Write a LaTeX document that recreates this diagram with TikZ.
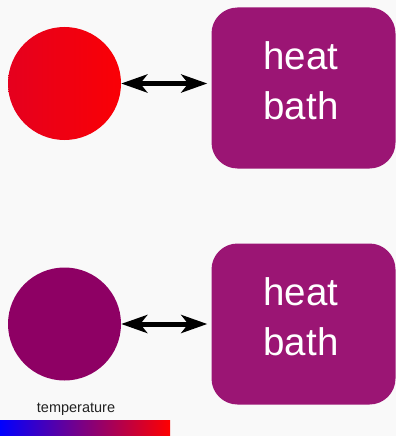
\documentclass[tikz,border=0pt]{standalone}
\usepackage{fontspec}
\setmainfont{Liberation Sans}
\usetikzlibrary{arrows.meta}
\definecolor{bg}{HTML}{F9F9F9}
\definecolor{bathc}{HTML}{9B1574}
\definecolor{hotl}{HTML}{E5001E}
\definecolor{hotr}{HTML}{FA0005}
\definecolor{warm}{HTML}{8E0064}
\definecolor{txt}{HTML}{222222}
\tikzset{
  bath/.style={fill=bathc, rounded corners=26pt, minimum width=184pt, minimum height=161pt, inner sep=0pt},
  bathtext/.style={text=white, align=center, font=\fontsize{38.5}{50}\selectfont, inner sep=0pt},
  ball/.style={circle, minimum size=113pt, inner sep=0pt},
  link/.style={line width=5pt, {Stealth[length=26pt,width=18pt,inset=7pt]}-{Stealth[length=26pt,width=18pt,inset=7pt]}, shorten >=4pt}
}
\begin{document}
\begin{tikzpicture}[x=1pt,y=-1pt]
\fill[bg] (0,0) rectangle (396,436);
\useasboundingbox (0,0) rectangle (396,436);
\node[ball, left color=hotl, right color=hotr] (c1) at (64.5,83.5) {};
\node[bath] (b1) at (303.5,88) {};
\node[bathtext] (h1) at (301,81) {heat\\bath};
\draw[link] (c1.east) -- (b1.west |- c1.east);
\node[ball, fill=warm] (c2) at (64.5,324) {};
\node[bath] (b2) at (303.5,324) {};
\node[bathtext] (h2) at (301,317) {heat\\bath};
\draw[link] (c2.east) -- (b2.west |- c2.east);
\node[text=txt, font=\fontsize{14.5}{16}\selectfont] (t) at (76,409) {temperature};
\shade[left color=blue, right color=red] (0,420) rectangle (170,436);
\end{tikzpicture}
\end{document}
